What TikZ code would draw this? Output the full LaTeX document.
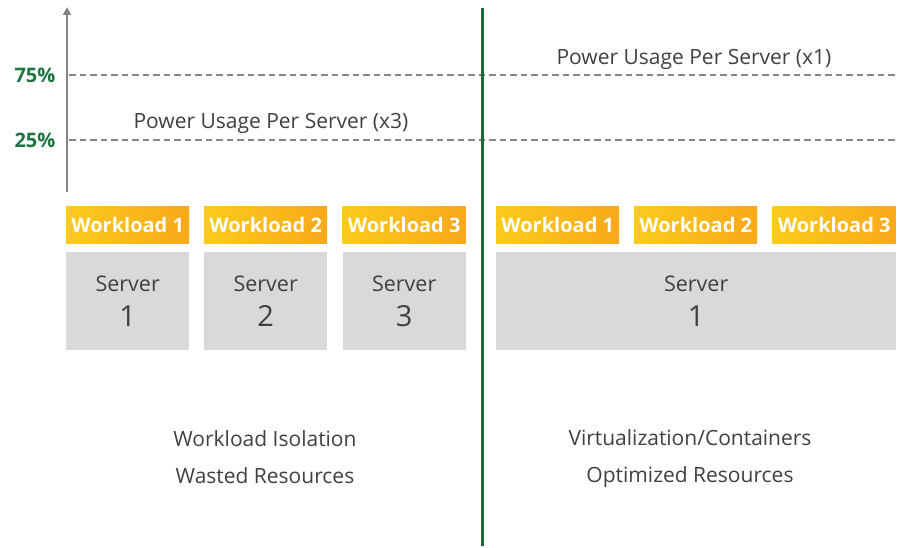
\documentclass[tikz,border=0pt]{standalone}
\usepackage{fontspec}
\setmainfont{Open Sans}
\usetikzlibrary{arrows.meta}
\definecolor{wlyellow}{HTML}{FBCB1C}
\definecolor{wlorange}{HTML}{F9A81B}
\definecolor{srvgray}{HTML}{D9D9D9}
\definecolor{txtgray}{HTML}{404040}
\definecolor{axisgray}{HTML}{858585}
\definecolor{divgreen}{HTML}{1B6A36}
\definecolor{pctgreen}{HTML}{1E7540}
\begin{document}
\begin{tikzpicture}[x=1pt, y=-1pt,
    work/.style={rectangle, anchor=north west, minimum width=123pt, minimum height=37pt,
      inner sep=0pt, left color=wlyellow, right color=wlorange, text=white,
      font=\fontsize{20}{20}\selectfont\bfseries},
    server/.style={rectangle, anchor=north west, minimum width=123pt, minimum height=98pt,
      inner sep=0pt, fill=srvgray, text=txtgray, align=center,
      font=\fontsize{21.5}{35}\selectfont},
    caption/.style={text=txtgray, align=center, font=\fontsize{21}{37}\selectfont},
    pct/.style={text=pctgreen, font=\fontsize{20}{20}\selectfont\bfseries},
    level/.style={axisgray, line width=1.1pt, dash pattern=on 6.5pt off 4pt}]
  \useasboundingbox (0,0) rectangle (901,548);
  % \draw [help lines] grid(3,2);
  \coordinate (axisbot) at (67,192);
  \coordinate (axistop) at (67,7);
  \coordinate (divtop) at (482,8);
  \coordinate (divbot) at (482,546);
  % usage levels
  \draw[level] (69,75) -- (897,75);
  \draw[level] (69,140) -- (897,140);
  \draw[axisgray, line width=1.8pt, -{Triangle[width=8pt,length=8pt]}] (axisbot) -- (axistop);
  \node[pct] (p75) at (35,75) {75\%};
  \node[pct] (p25) at (35,140) {25\%};
  \node[caption] (useA) at (271,123.5) {Power Usage Per Server (x3)};
  \node[caption] (useB) at (694,59.5) {Power Usage Per Server (x1)};
  % left: one workload per server
  \node[work] (wlA1) at (66,206) {Workload 1};
  \node[work] (wlA2) at (204,206) {Workload 2};
  \node[work] (wlA3) at (342.5,206) {Workload 3};
  \node[server] (srvA1) at (66,252) {Server\\{\fontsize{29}{29}\selectfont 1}};
  \node[server] (srvA2) at (204,252) {Server\\{\fontsize{29}{29}\selectfont 2}};
  \node[server] (srvA3) at (342.5,252) {Server\\{\fontsize{29}{29}\selectfont 3}};
  % right: all workloads on one server
  \node[work] (wlB1) at (496,206) {Workload 1};
  \node[work] (wlB2) at (634,206) {Workload 2};
  \node[work] (wlB3) at (772.5,206) {Workload 3};
  \node[server, minimum width=400pt] (srvB1) at (496,252) {Server\\{\fontsize{29}{29}\selectfont 1}};
  \node[caption] (capA) at (265,457) {Workload Isolation\\Wasted Resources};
  \node[caption] (capB) at (690,459) {Virtualization/Containers\\Optimized Resources};
  \draw[divgreen, line width=3pt] (divtop) -- (divbot);
\end{tikzpicture}
\end{document}
